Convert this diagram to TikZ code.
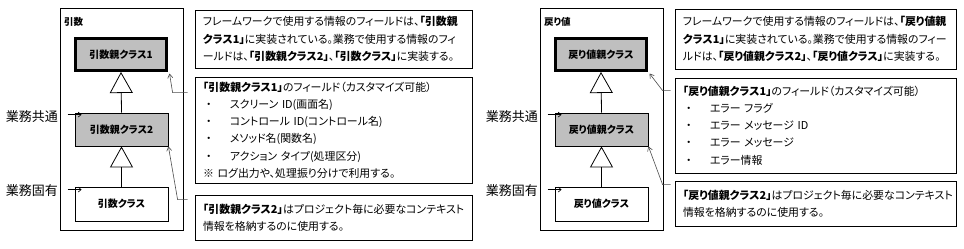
\documentclass[tikz,border=0pt]{standalone}
\usepackage{fontspec}
\setmainfont{Noto Sans CJK JP}[RawFeature=+palt]
\usepackage{tikz}
\usetikzlibrary{arrows.meta,positioning,calc}
\colorlet{classGray}{black!25}
\colorlet{calloutGray}{black!70}
\tikzset{
  >=Latex,
  % frames, class boxes and notes; 1 unit = 1 pixel of the sheet
  panelframe/.style={
    draw=black,
    fill=white,
    line width=0.8pt
  },
  paneltitle/.style={
    anchor=west,
    inner sep=0pt,
    font=\bfseries\fontsize{9.5}{11}\selectfont
  },
  classbox/.style={
    draw=black,
    fill=#1,
    line width=0.8pt,
    align=center,
    font=\bfseries\fontsize{10}{12}\selectfont
  },
  classbox/.default=classGray,
  rootbox/.style={
    classbox,
    line width=3pt
  },
  notebox/.style={
    draw=black,
    fill=white,
    line width=0.8pt,
    align=left,
    inner xsep=8pt,
    inner ysep=0pt,
    font=\fontsize{10.9}{17.2}\selectfont
  },
  sidelabel/.style={
    anchor=east,
    inner sep=0pt,
    font=\fontsize{13}{15}\selectfont
  },
  inherit/.style={
    -{Triangle[open,length=21pt,width=23pt]},
    line width=0.8pt
  },
  pointer/.style={
    -{Straight Barb[length=3pt,width=5pt]},
    line width=0.6pt
  },
  callline/.style={
    -{Straight Barb[length=4pt,width=5pt]},
    line width=0.6pt,
    draw=calloutGray
  }
}
\newcommand{\bul}[1]{\hspace*{3pt}\makebox[24pt][l]{・}#1}

\begin{document}
\begin{tikzpicture}[x=1pt,y=-1pt]

\useasboundingbox (0,0) rectangle (964,249);

% ---------- arguments (left) ----------
\node[panelframe, minimum width=123pt, minimum height=222pt] (frameL) at (121.5,119) {};
\node[paneltitle] (titleL) at (64,22) {引数};

\node[rootbox, minimum width=91pt, minimum height=32pt] (argTop) at (121,54.5) {引数親クラス1};
\node[classbox, minimum width=93pt, minimum height=33pt] (argMid) at (121.5,129.5) {引数親クラス2};
\node[classbox=white, minimum width=93pt, minimum height=34pt] (argLeaf) at (121.5,204) {引数クラス};

\draw[inherit] (argMid.north) -- (argTop.south);
\draw[inherit] (argLeaf.north) -- (argMid.south);

\node[sidelabel] (commonL) at (58,117) {業務共通};
\node[sidelabel] (ownL) at (58,191) {業務固有};
\coordinate (commonTipL) at ($(argMid.north west)+(7,2)$);
\coordinate (ownTipL) at ($(argLeaf.north west)+(7,3)$);
\draw[pointer] ([xshift=-14pt]commonTipL) -- (commonTipL);
\draw[pointer] ([xshift=-14pt]ownTipL) -- (ownTipL);

\node[notebox, text width=261pt, minimum height=58pt] (noteImplL) at (333.5,39)
{フレームワークで使用する情報のフィールドは、\textbf{「引数親}\\
\textbf{クラス1」}に実装されている。業務で使用する情報のフィ\\
ールドは、\textbf{「引数親クラス2」}、\textbf{「引数クラス」}に実装する。};
\node[notebox, text width=261pt, minimum height=106pt] (noteFieldsL) at (333.5,130)
{\textbf{「引数親クラス1」}のフィールド（カスタマイズ可能）\\
\bul{スクリーン ID(画面名)}\\
\bul{コントロール ID(コントロール名)}\\
\bul{メソッド名(関数名)}\\
\bul{アクション タイプ(処理区分)}\\
※ ログ出力や、処理振り分けで利用する。};
\node[notebox, text width=261pt, minimum height=45pt] (noteContextL) at (333.5,217.5)
{\textbf{「引数親クラス2」}はプロジェクト毎に必要なコンテキスト\\
情報を格納するのに使用する。};

\coordinate (hookTopL) at ($(noteFieldsL.north west)+(-7,16)$);
\coordinate (kneeTopL) at ($(hookTopL)+(-15,0)$);
\coordinate (hookMidL) at ($(noteContextL.north west)+(-7,5)$);
\coordinate (kneeMidL) at ($(hookMidL)+(-10,0)$);
\draw[callline] (hookTopL) -- (kneeTopL) -- ([xshift=1.5pt,yshift=-1.5pt]argTop.south east);
\draw[callline] (hookMidL) -- (kneeMidL) -- (argMid.south east);

% ---------- return values (right) ----------
\node[panelframe, minimum width=123pt, minimum height=222pt] (frameR) at (601.5,119) {};
\node[paneltitle] (titleR) at (544,22) {戻り値};

\node[rootbox, minimum width=91pt, minimum height=32pt] (retTop) at (601,54.5) {戻り値親クラス};
\node[classbox, minimum width=93pt, minimum height=33pt] (retMid) at (601.5,129.5) {戻り値親クラス};
\node[classbox=white, minimum width=93pt, minimum height=34pt] (retLeaf) at (601.5,204) {戻り値クラス};

\draw[inherit] (retMid.north) -- (retTop.south);
\draw[inherit] (retLeaf.north) -- (retMid.south);

\node[sidelabel] (commonR) at (538,117) {業務共通};
\node[sidelabel] (ownR) at (538,191) {業務固有};
\coordinate (commonTipR) at ($(retMid.north west)+(7,2)$);
\coordinate (ownTipR) at ($(retLeaf.north west)+(7,3)$);
\draw[pointer] ([xshift=-14pt]commonTipR) -- (commonTipR);
\draw[pointer] ([xshift=-14pt]ownTipR) -- (ownTipR);

\node[notebox, text width=265pt, minimum height=60pt] (noteImplR) at (815.5,39)
{フレームワークで使用する情報のフィールドは、\textbf{「戻り値親}\\
\textbf{クラス1」}に実装されている。業務で使用する情報のフィー\\
ルドは、\textbf{「戻り値親クラス2」}、\textbf{「戻り値クラス」}に実装する。};
\node[notebox, text width=265pt, minimum height=95pt] (noteFieldsR) at (815.5,125.5)
{\textbf{「戻り値親クラス1」}のフィールド（カスタマイズ可能）\\
\bul{エラー フラグ}\\
\bul{エラー メッセージ ID}\\
\bul{エラー メッセージ}\\
\bul{エラー情報}};
\node[notebox, text width=265pt, minimum height=45pt] (noteContextR) at (815.5,203.5)
{\textbf{「戻り値親クラス2」}はプロジェクト毎に必要なコンテキスト\\
情報を格納するのに使用する。};

\coordinate (hookTopR) at ($(noteFieldsR.north west)+(-4,13)$);
\coordinate (kneeTopR) at ($(hookTopR)+(-8,0)$);
\coordinate (hookMidR) at ($(noteContextR.north west)+(-4,4)$);
\coordinate (kneeMidR) at ($(hookMidR)+(-8,0)$);
\draw[callline] (hookTopR) -- (kneeTopR) -- ([xshift=1.5pt,yshift=-1.5pt]retTop.south east);
\draw[callline] (hookMidR) -- (kneeMidR) -- (retMid.south east);

\end{tikzpicture}
\end{document}
